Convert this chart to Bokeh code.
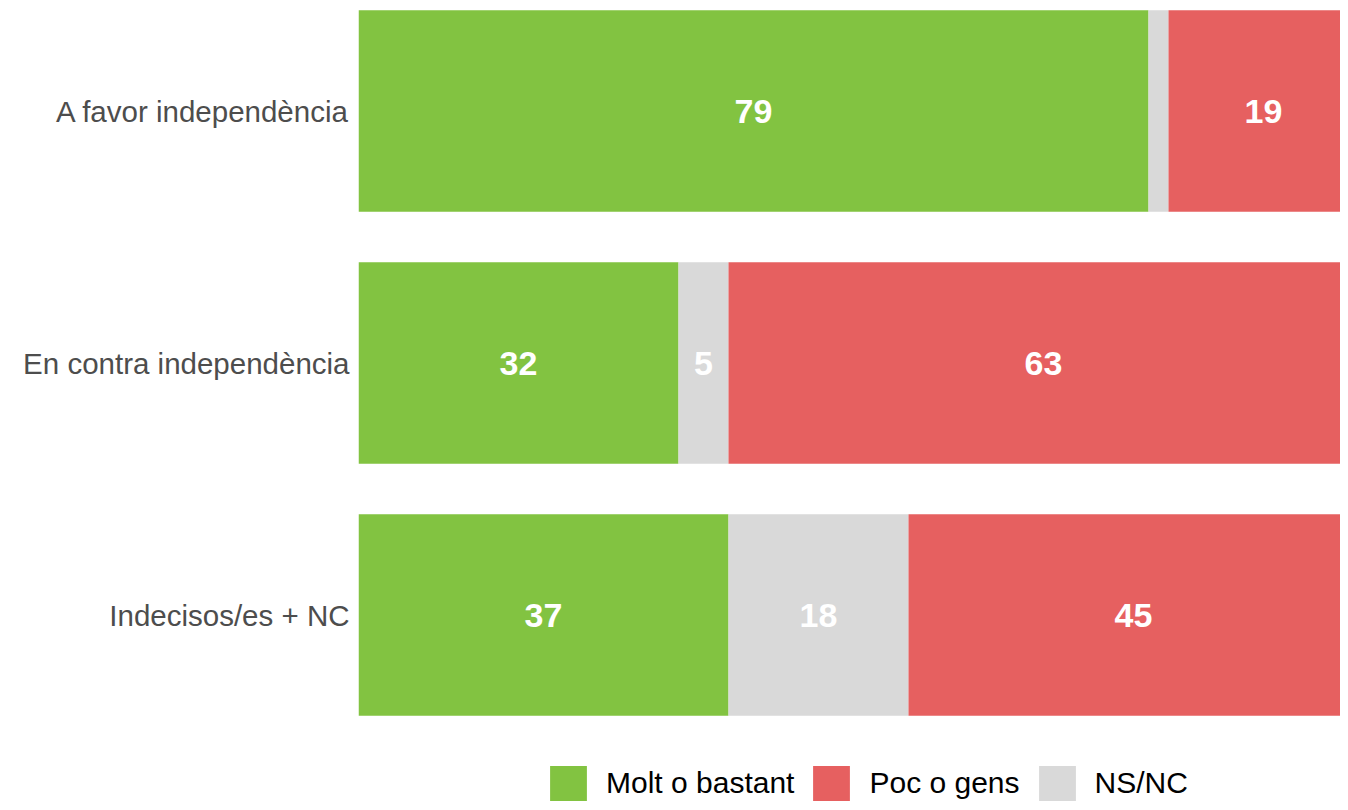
from bokeh.plotting import figure
from bokeh.models import (ColumnDataSource, Range1d, FixedTicker, Legend, LegendItem)
from bokeh.core.properties import value
from bokeh.embed import file_html
from bokeh.resources import INLINE

# ---- data ----
categories = ["A favor independència", "En contra independència", "Indecisos/es + NC"]
molt_o_bastant = [79, 32, 37]
ns_nc = [2, 5, 18]
poc_o_gens = [19, 63, 45]

series_names = ["Molt o bastant", "NS/NC", "Poc o gens"]
series_colors = ["#82C341", "#D9D9D9", "#E66060"]
legend_order = ["Molt o bastant", "Poc o gens", "NS/NC"]

FONT = "Liberation Sans"

# y positions: first category at top
ypos = [len(categories) - i for i in range(len(categories))]

p = figure(width=1340, height=802, output_backend="svg", toolbar_location=None,
           x_range=Range1d(0, 98.2), y_range=Range1d(0.256, 3.4385),
           x_axis_location=None, min_border_left=358, min_border_right=0,
           min_border_top=0, min_border_bottom=0)
p.outline_line_color = None
p.xgrid.visible = False
p.ygrid.visible = False
p.background_fill_color = "white"
p.border_fill_color = "white"

series_vals = [molt_o_bastant, ns_nc, poc_o_gens]
left = [0.0] * len(categories)
renderers = {}
lbl_x, lbl_y, lbl_t = [], [], []
for name, vals, col in zip(series_names, series_vals, series_colors):
    right = [l + v for l, v in zip(left, vals)]
    src = ColumnDataSource(dict(y=ypos, left=left, right=right))
    r = p.hbar(y="y", left="left", right="right", height=0.8, source=src,
               fill_color=col, line_color=None)
    renderers[name] = r
    for l, v, y in zip(left, vals, ypos):
        if v > 2:
            lbl_x.append(l + v / 2.0)
            lbl_y.append(y)
            lbl_t.append(str(v))
    left = right

lsrc = ColumnDataSource(dict(x=lbl_x, y=lbl_y, t=lbl_t))
p.text(x="x", y="y", text="t", source=lsrc, text_color="white",
       text_font=value(FONT), text_font_style="bold", text_font_size="34px",
       text_align="center", text_baseline="middle")

# y axis
p.yaxis.ticker = FixedTicker(ticks=ypos)
p.yaxis.major_label_overrides = {y: c for y, c in zip(ypos, categories)}
p.yaxis.axis_line_color = None
p.yaxis.major_tick_line_color = None
p.yaxis.minor_tick_line_color = None
p.yaxis.major_tick_out = 0
p.yaxis.major_tick_in = 0
p.yaxis.major_label_standoff = 9
p.yaxis.major_label_text_font = FONT
p.yaxis.major_label_text_font_size = "29.5px"
p.yaxis.major_label_text_color = "#4D4D4D"

# legend
items = [LegendItem(label=n, renderers=[renderers[n]]) for n in legend_order]
legend = Legend(items=items, orientation="horizontal", location=(187, -3),
                glyph_width=46, glyph_height=44, label_standoff=15, spacing=14,
                padding=0, margin=0, border_line_color=None,
                background_fill_alpha=0, label_text_font=FONT,
                label_text_font_size="30px", label_text_color="#000000",
                label_text_baseline="middle")
p.add_layout(legend)

open("out.html", "w").write(file_html(p, INLINE))
